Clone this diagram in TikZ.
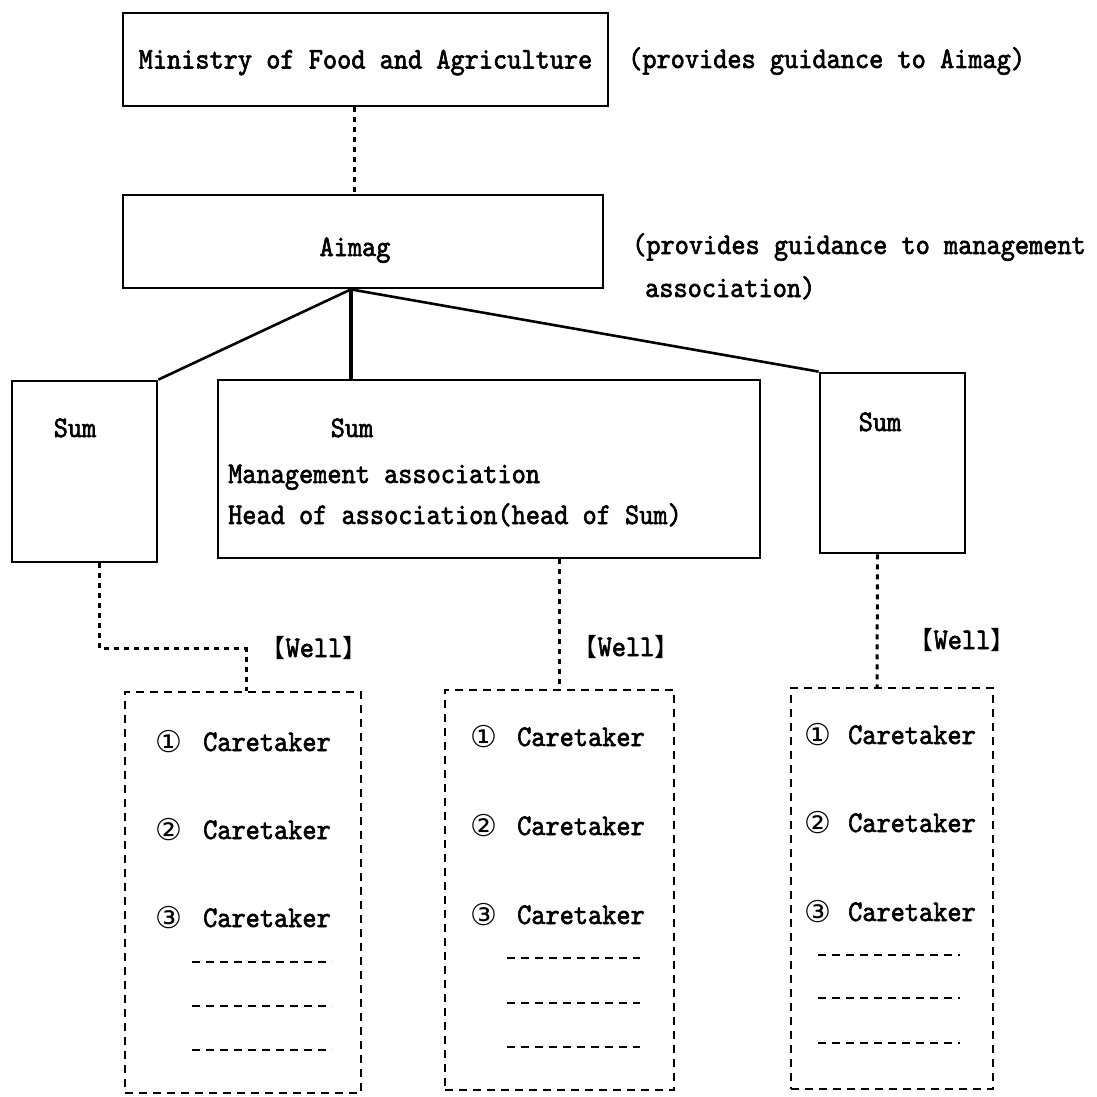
\documentclass[tikz,border=0pt]{standalone}
\usepackage{fontspec}
\usetikzlibrary{calc}
\newfontfamily\mono{lmmono10-regular.otf}[FakeBold=2,FakeStretch=0.9]
\newfontfamily\sym{DejaVu Sans}
\newfontfamily\cjk{Noto Sans CJK JP}
\newcommand\wellname{{\cjk\fontsize{25}{28}\selectfont 【}Well{\cjk\fontsize{25}{28}\selectfont 】}}
\begin{document}
\begin{tikzpicture}[x=1pt,y=-1pt,
  box/.style={draw, line width=2.8pt, inner sep=0pt},
  txt/.style={font=\mono\fontsize{30}{34}\selectfont, inner sep=0pt, text height=18pt, text depth=0pt},
  num/.style={font=\sym\fontsize{30}{34}\selectfont, inner sep=0pt},
  link/.style={line width=2.6pt},
  dotlink/.style={line width=3pt, dash pattern=on 5pt off 5pt},
  wellbox/.style={draw, line width=2.4pt, dash pattern=on 8pt off 6pt},
  blank/.style={line width=2pt, dash pattern=on 8pt off 6pt}]

\fill[white] (0,0) rectangle (1096,1097);
\useasboundingbox (0,0) rectangle (1096,1097);

% --- top levels ---
\node[box, txt, minimum width=485pt, minimum height=93pt] (ministry) at (365.5,59.5)
  {Ministry of Food and Agriculture};
\node[txt, anchor=west] (noteM) at (628,59) {(provides guidance to Aimag)};

\node[box, minimum width=480pt, minimum height=93pt] (aimag) at (363,241.5) {};
\node[txt] (aimagtxt) at (355,247) {Aimag};
\node[txt, anchor=west] (noteA1) at (632,245) {(provides guidance to management};
\node[txt, anchor=west] (noteA2) at (645,288) {association)};

\coordinate (mout) at ($(ministry.south west)!0.478!(ministry.south east)$);
\draw[dotlink] (mout) -- (mout |- aimag.north);

% --- Sum level ---
\node[box, minimum width=145pt, minimum height=181pt] (sumL) at (84.5,471.5) {};
\node[txt] (sumLtxt) at (75,428) {Sum};

\node[box, minimum width=542pt, minimum height=178pt] (sumM) at (489,469) {};
\node[txt] (sumMtxt) at (352,428) {Sum};
\node[txt, anchor=west] (sumMa) at (228,474) {Management association};
\node[txt, anchor=west] (sumMb) at (228,515) {Head of association(head of Sum)};

\node[box, minimum width=145pt, minimum height=180pt] (sumR) at (892.5,463) {};
\node[txt] (sumRtxt) at (880,422) {Sum};

\coordinate (hub) at ($(aimag.south west)!0.475!(aimag.south east)$);
\draw[link] (hub) -- (sumL.north east);
\draw[link, line width=3.2pt] (hub) -- (hub |- sumM.north);
\draw[link] (hub) -- (sumR.north west);

% --- wells ---
\node[wellbox, minimum width=236pt, minimum height=401pt, inner sep=0pt] (wellL) at (243,892.5) {};
\node[wellbox, minimum width=229pt, minimum height=400pt, inner sep=0pt] (wellM) at (559.5,890) {};
\node[wellbox, minimum width=202pt, minimum height=401pt, inner sep=0pt] (wellR) at (892,888.5) {};

\node[txt] (wlabL) at (314,648) {\wellname};
\node[txt] (wlabM) at (626,647) {\wellname};
\node[txt] (wlabR) at (962,640) {\wellname};

\coordinate (sLout) at ($(sumL.south west)!0.6!(sumL.south east)$);
\draw[dotlink] (sLout) |- ($(wellL.north)+(3,-42)$) -- ($(wellL.north)+(3,0)$);
\draw[dotlink] (wellM.north |- sumM.south) -- (wellM.north);
\draw[dotlink] ($(sumR.south)+(-15,0)$) -- ($(wellR.north)+(-15,0)$);

% caretaker rows in each well
\foreach \n/\y in {1/742,2/830,3/918}{
  \node[num] (cL\n) at (169,\y) {\ifcase\n\or ①\or ②\or ③\fi};
  \node[txt, anchor=west] (tL\n) at (203,\y) {Caretaker};
}
\foreach \n/\y in {1/737,2/826,3/915}{
  \node[num] (cM\n) at (484,\y) {\ifcase\n\or ①\or ②\or ③\fi};
  \node[txt, anchor=west] (tM\n) at (517,\y) {Caretaker};
}
\foreach \n/\y in {1/735,2/823,3/912}{
  \node[num] (cR\n) at (818,\y) {\ifcase\n\or ①\or ②\or ③\fi};
  \node[txt, anchor=west] (tR\n) at (848,\y) {Caretaker};
}

% blank entry lines
\foreach \y in {962,1006,1050} \draw[blank] (192,\y) -- (332,\y);
\foreach \y in {958,1003,1047} \draw[blank] (507,\y) -- (640,\y);
\foreach \y in {955,998,1043} \draw[blank] (818,\y) -- (960,\y);
\end{tikzpicture}
\end{document}
